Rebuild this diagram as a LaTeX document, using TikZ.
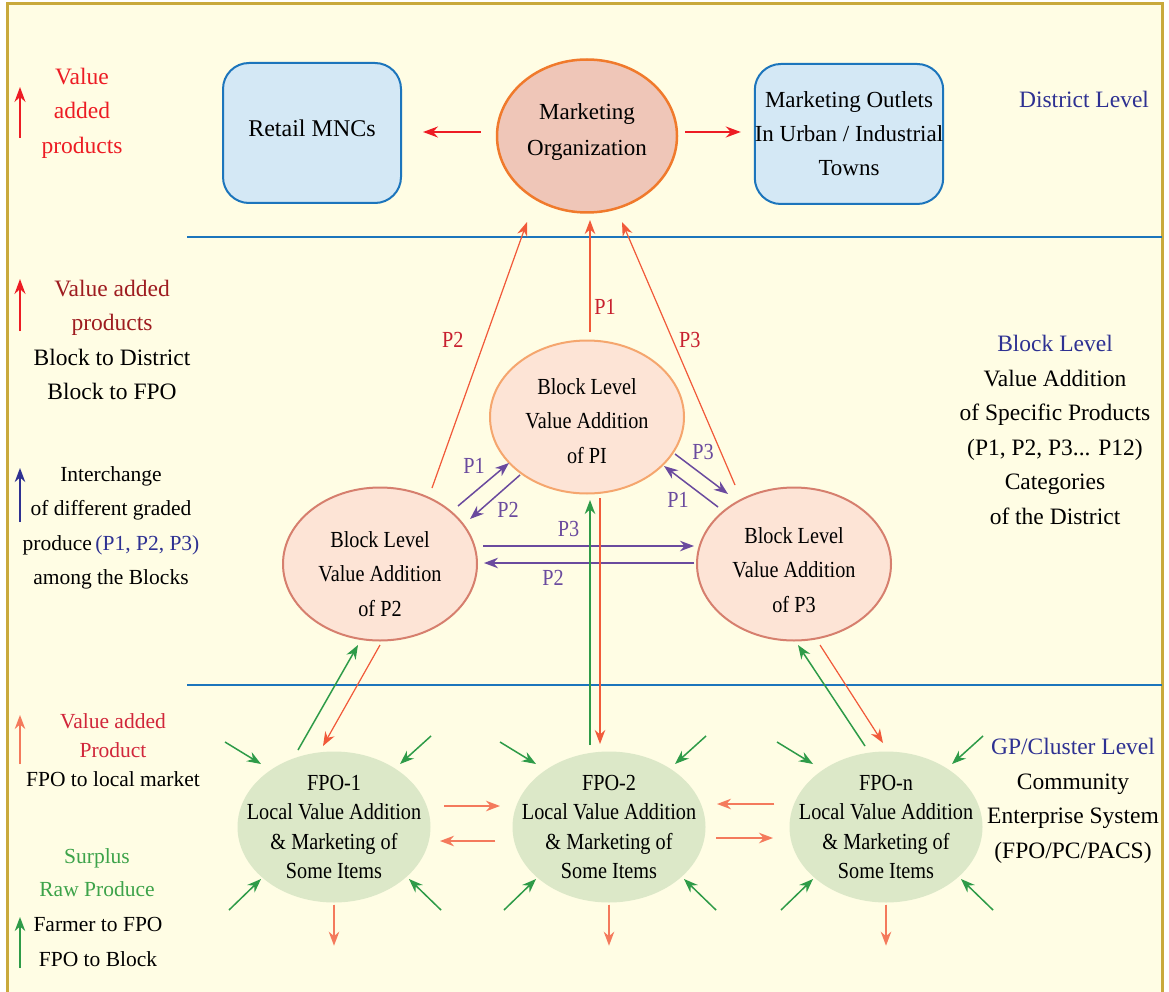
\documentclass[tikz,border=0pt]{standalone}
\usepackage{fontspec}
\setmainfont{Liberation Serif}
\newfontfamily\condfont{Liberation Serif}[FakeStretch=0.88]
\usetikzlibrary{arrows.meta,calc,shapes.geometric}

\definecolor{cream}{HTML}{FFFDE4}
\definecolor{gold}{HTML}{C9A93B}
\definecolor{levelblue}{HTML}{1C75BC}
\definecolor{boxfill}{HTML}{D4E8F5}
\definecolor{orgfill}{HTML}{EFC6B8}
\definecolor{orgline}{HTML}{F07A2C}
\definecolor{blkfill}{HTML}{FDE4D6}
\definecolor{blkline}{HTML}{F5A66E}
\definecolor{blkrose}{HTML}{D67F6E}
\definecolor{fpofill}{HTML}{DCE8C8}
\definecolor{brightred}{HTML}{ED1C24}
\definecolor{flowred}{HTML}{F15A3A}
\definecolor{salmon}{HTML}{F47A5C}
\definecolor{lblred}{HTML}{C8202F}
\definecolor{purp}{HTML}{6A4A9E}
\definecolor{grn}{HTML}{2E9B48}
\definecolor{navy}{HTML}{2E3192}
\definecolor{darkred}{HTML}{9E1C20}
\definecolor{midred}{HTML}{D1263A}
\definecolor{txtgreen}{HTML}{3DA34A}

\begin{document}
\begin{tikzpicture}[x=1pt,y=-1pt,
  font=\fontsize{23.5}{34.5}\selectfont,
  every node/.style={inner sep=0pt},
  tipA/.style={-{Stealth[length=15pt,width=11pt,inset=5pt]}},
  tipB/.style={-{Stealth[length=14pt,width=10.5pt,inset=4.5pt]}},
  redarrow/.style={tipA, draw=brightred, fill=brightred, line width=1.8pt},
  upline/.style={tipB, draw=flowred, fill=flowred, line width=1.2pt},
  purparrow/.style={tipB, draw=purp, fill=purp, line width=1.5pt},
  grnarrow/.style={tipB, draw=grn, fill=grn, line width=1.5pt},
  salarrow/.style={tipB, draw=salmon, fill=salmon, line width=1.8pt},
  navyarrow/.style={tipB, draw=navy, fill=navy, line width=1.5pt},
  levelline/.style={draw=levelblue, line width=2pt},
  lbl/.style={text=lblred, font=\condfont\fontsize{23}{26}\selectfont},
  plbl/.style={text=purp, font=\condfont\fontsize{23}{26}\selectfont},
  outbox/.style={draw=levelblue, fill=boxfill, line width=2pt, rounded corners=26pt,
                 minimum width=178pt, minimum height=140pt, align=center},
  orgnode/.style={ellipse, draw=orgline, fill=orgfill, line width=2.5pt,
                 minimum width=180pt, minimum height=153pt},
  blocknode/.style={ellipse, fill=blkfill, line width=2pt,
                 minimum width=194pt, minimum height=153pt},
  fponode/.style={ellipse, fill=fpofill, minimum width=193pt, minimum height=151pt},
  blktext/.style={align=center, font=\condfont\fontsize{23}{34.5}\selectfont},
  fpotext/.style={align=center, font=\condfont\fontsize{23}{29.5}\selectfont},
  legend/.style={align=center}
]
\useasboundingbox (0,0) rectangle (1169,992);
\clip (0,0) rectangle (1169,992);
\fill[white] (0,0) rectangle (1169,992);
\filldraw[fill=cream, draw=gold, line width=3pt] (7,4) rectangle (1162,1010);

% level separators
\draw[levelline] (187,237) -- (1162,237);
\draw[levelline] (187,685) -- (1162,685);

% district level
\node[outbox] (mnc) at (312,133) {};
\node[legend, font=\fontsize{24}{34}\selectfont] (mnctext) at (312,128) {Retail MNCs};
\node[orgnode, label={[align=center, yshift=4pt, font=\fontsize{23}{35.5}\selectfont]center:Marketing\\Organization}] (mo) at (587,136) {};
\node[outbox, minimum width=185pt, font=\fontsize{23}{34}\selectfont] (mout) at (849,134)
  {Marketing Outlets\\In Urban / Industrial\\Towns};

% block level
\node[blocknode, draw=blkline, label={[blktext, yshift=-4pt]center:Block Level\\Value Addition\\of PI}] (b1) at (587,417) {};
\node[blocknode, draw=blkrose, label={[blktext, yshift=-10pt]center:Block Level\\Value Addition\\of P2}] (b2) at (380,564) {};
\node[blocknode, draw=blkrose, label={[blktext, yshift=-6pt]center:Block Level\\Value Addition\\of P3}] (b3) at (794,564) {};

% GP / cluster level
\node[fponode, label={[fpotext]center:FPO-1\\Local Value Addition\\\& Marketing of\\Some Items}] (f1) at (334,827) {};
\node[fponode, label={[fpotext]center:FPO-2\\Local Value Addition\\\& Marketing of\\Some Items}] (f2) at (609,827) {};
\node[fponode, label={[fpotext]center:FPO-n\\Local Value Addition\\\& Marketing of\\Some Items}] (fn) at (886,827) {};

% district distribution
\draw[redarrow] ($(mo.west)+(-15,-4)$) -- ($(mnc.east)+(21,-1)$);
\draw[redarrow] ($(mo.east)+(7,-4)$) -- ($(mout.west)+(-13,-2)$);

% blocks to marketing organization
\draw[upline] ($(b2)+(52,-76)$) -- node[lbl, pos=0.556, xshift=-32pt] (lp2) {P2} ($(mo)+(-60,86)$);
\draw[upline] ($(b1)+(3,-85)$) -- node[lbl, pos=0.223, xshift=15pt] (lp1) {P1} ($(mo)+(3,84)$);
\draw[upline] ($(b3)+(-59,-79)$) -- node[lbl, pos=0.551, xshift=17pt] (lp3) {P3} ($(mo)+(35,86)$);

% interchange among blocks
\draw[purparrow] ($(b2)+(78,-58)$) -- node[plbl, xshift=-9.5pt, yshift=18.5pt] (x1) {P1} ($(b1)+(-78,46)$);
\draw[purparrow] ($(b1)+(-67,58)$) -- node[plbl, xshift=13pt, yshift=-13pt] (x2) {P2} ($(b2)+(90,-45)$);
\draw[purparrow] ($(b1)+(88,37)$) -- node[plbl, xshift=1.5pt, yshift=22pt] (x3) {P3} ($(b3)+(-66,-70)$);
\draw[purparrow] ($(b3)+(-76,-57)$) -- node[plbl, xshift=-13pt, yshift=-13.5pt] (x4) {P1} ($(b1)+(77,49)$);
\draw[purparrow] ($(b2)+(103,-18)$) -- node[plbl, xshift=-20pt, yshift=17pt] (x5) {P3} ($(b3)+(-100,-18)$);
\draw[purparrow] ($(b3)+(-100,-1)$) -- node[plbl, xshift=-36pt, yshift=-15pt] (x6) {P2} ($(b2)+(104,-1)$);

% FPO <-> block flows
\draw[grnarrow] ($(f2)+(-19,-82)$) -- ($(b1)+(3,83)$);
\draw[upline] ($(b1)+(13,81)$) -- ($(f2)+(-9,-83)$);
\draw[grnarrow] ($(f1)+(-36,-77)$) -- ($(b2)+(-22,81)$);
\draw[upline] ($(b2)+(0,81)$) -- ($(f1)+(-11,-81)$);
\draw[grnarrow] ($(fn)+(-21,-81)$) -- ($(b3)+(4,81)$);
\draw[upline] ($(b3)+(26,81)$) -- ($(fn)+(-3,-84)$);

% exchange among FPOs
\draw[salarrow] ($(f1)+(110,-21)$) -- ($(f2)+(-109,-21)$);
\draw[salarrow] ($(f2)+(-114,14)$) -- ($(f1)+(106,14)$);
\draw[salarrow] ($(fn)+(-112,-23)$) -- ($(f2)+(108,-23)$);
\draw[salarrow] ($(f2)+(107,11)$) -- ($(fn)+(-113,11)$);

% farmers feeding each FPO, local market output
\foreach \n in {f1,f2,fn}{
  \draw[grnarrow] ($(\n)+(-109,-85)$) -- ($(\n)+(-73,-63)$);
  \draw[grnarrow] ($(\n)+(97,-91)$) -- ($(\n)+(66,-63)$);
  \draw[grnarrow] ($(\n)+(-105,83)$) -- ($(\n)+(-73,52)$);
  \draw[grnarrow] ($(\n)+(107,83)$) -- ($(\n)+(75,52)$);
  \draw[salarrow] ($(\n.south)+(0,2)$) -- ($(\n.south)+(0,43)$);
}

% left legend
\draw[redarrow, line width=1.5pt] (20,138) -- (20,87);
\node[legend, text=brightred] (lg1) at (82,113) {Value\\added\\products};
\draw[redarrow, line width=1.5pt] (20,331) -- (20,279);
\node[legend] (lg2) at (112,340) {\textcolor{darkred}{Value added}\\\textcolor{darkred}{products}\\Block to District\\Block to FPO};
\draw[navyarrow] (20,522) -- (20,468);
\node[legend, font=\fontsize{21.5}{34.5}\selectfont] (lg3) at (111,528)
  {Interchange\\of different graded\\produce\,\textcolor{navy}{(P1, P2, P3)}\\among the Blocks};
\draw[salarrow, line width=1.5pt] (20,764) -- (20,715);
\node[legend, font=\fontsize{21.5}{29}\selectfont] (lg4) at (113,750)
  {\textcolor{midred}{Value added}\\\textcolor{midred}{Product}\\FPO to local market};
\node[legend, text=txtgreen, font=\fontsize{21.5}{33}\selectfont] (lg5) at (97,873) {Surplus\\Raw Produce};
\draw[grnarrow] (20,968) -- (20,917);
\node[legend, font=\fontsize{21.5}{35}\selectfont] (lg6) at (98,942) {Farmer to FPO\\FPO to Block};

% right legend
\node[legend, text=navy] (rg1) at (1084,99) {District Level};
\node[legend] (rg2) at (1055,430) {\textcolor{navy}{Block Level}\\Value Addition\\of Specific Products\\(P1, P2, P3... P12)\\Categories\\of the District};
\node[legend] (rg3) at (1073,801) {\textcolor{navy}{GP/Cluster Level}\\Community\\Enterprise System\\(FPO/PC/PACS)};
\end{tikzpicture}
\end{document}
